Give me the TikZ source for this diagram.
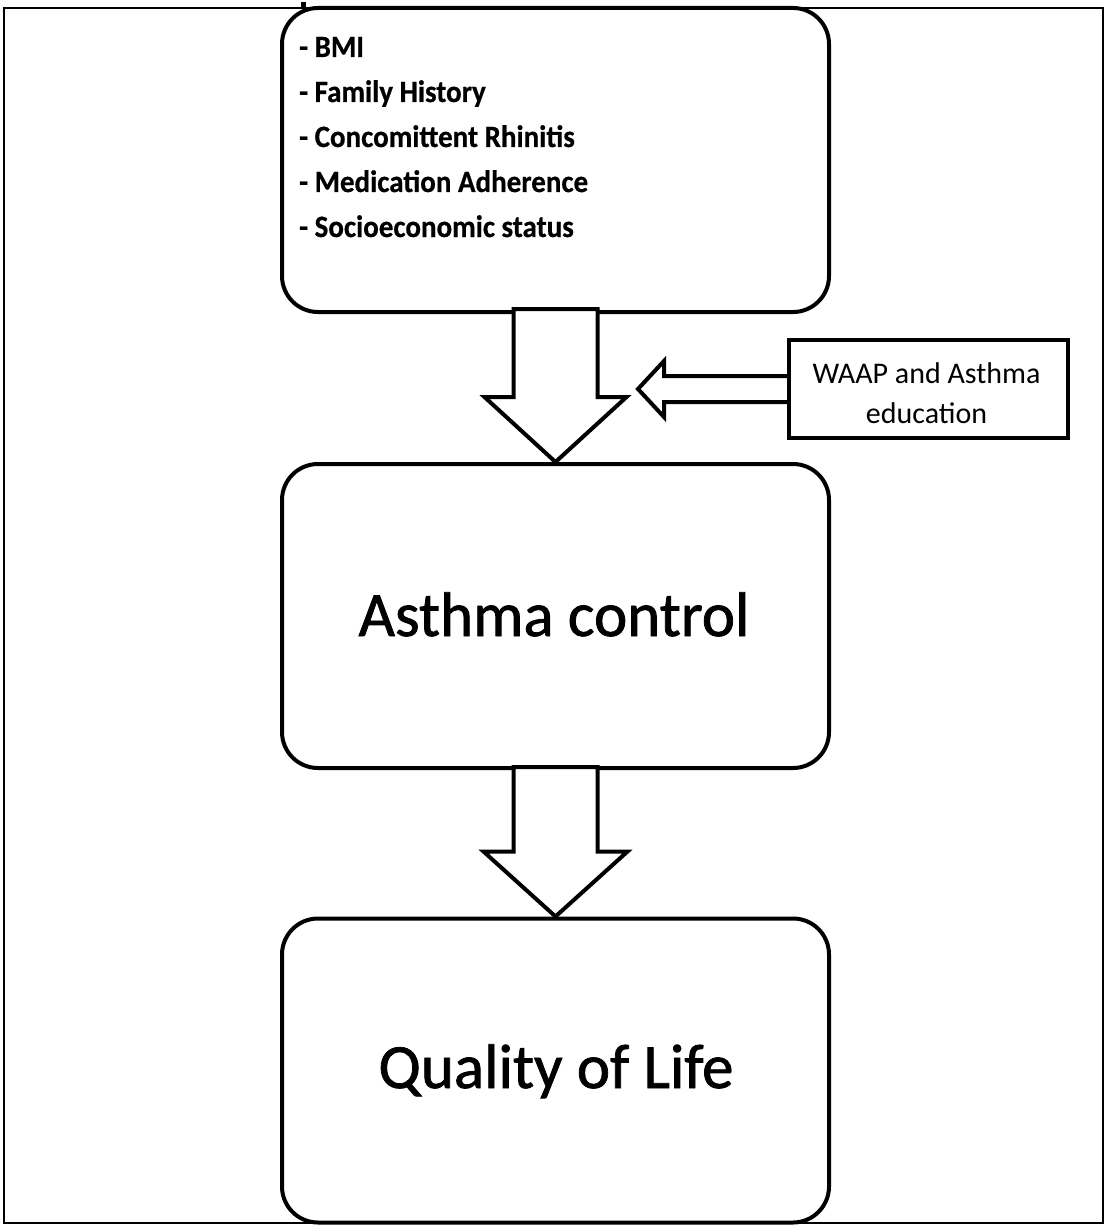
\documentclass[tikz,border=0pt]{standalone}
\usepackage{fontspec}
\setmainfont{Carlito}
\newfontfamily\bigfont[FakeBold=1.2]{Carlito}
\newfontfamily\listfont[FakeBold=0.6]{Carlito Bold}
\newcommand{\vstretch}[1]{\scalebox{1}[1.07]{#1}}
\usetikzlibrary{calc}
\begin{document}
\begin{tikzpicture}[x=1pt,y=-1pt,
  bigbox/.style={draw,line width=4pt,rounded corners=36pt,minimum width=547pt,minimum height=304pt,inner sep=0pt},
  sidebox/.style={draw,line width=4pt,minimum width=279pt,minimum height=98pt,inner sep=0pt},
  sidetext/.style={inner sep=0pt,align=center,font=\fontsize{30}{39}\selectfont},
  fatarrow/.style={draw,fill=white,line width=4pt,line join=miter},
  factor/.style={anchor=base west,inner sep=0pt,font=\listfont\fontsize{29}{30}\selectfont},
  bigtext/.style={anchor=base,inner sep=0pt,font=\bigfont\fontsize{63}{70}\selectfont}]
\useasboundingbox (0,0) rectangle (1105,1225);
\draw[line width=1.5pt] (4,8) rectangle (1103,1223);
% boxes
\node[bigbox] (f) at (555.5,160) {};
\node[bigbox] (ac) at (555.5,616) {};
\node[bigbox] (ql) at (555.5,1070.5) {};
\fill (301,2) rectangle (306,8);
% factor list
\node[factor] (f1) at (299,57) {\vstretch{- BMI}};
\node[factor] (f2) at (299,102) {\vstretch{- Family History}};
\node[factor] (f3) at (299,147) {\vstretch{- Concomittent Rhinitis}};
\node[factor] (f4) at (299,192) {\vstretch{- Medication Adherence}};
\node[factor] (f5) at (299,237) {\vstretch{- Socioeconomic status}};
% main labels
\node[bigtext] (act) at (554,636) {Asthma control};
\node[bigtext] (qlt) at (556,1088) {Quality of Life};
% fat arrows
\draw[fatarrow] ($(f.south)+(-42,-5)$) -- ($(f.south)+(42,-5)$) -- ($(ac.north)+(42,-65)$) -- ($(ac.north)+(71,-65)$) -- (ac.north) -- ($(ac.north)+(-71,-65)$) -- ($(ac.north)+(-42,-65)$) -- cycle;
\draw[fatarrow] ($(ac.south)+(-42,-3)$) -- ($(ac.south)+(42,-3)$) -- ($(ql.north)+(42,-65)$) -- ($(ql.north)+(72,-65)$) -- (ql.north) -- ($(ql.north)+(-72,-65)$) -- ($(ql.north)+(-42,-65)$) -- cycle;
% side input
\coordinate (wt) at (638,389);
\node[sidebox,draw=none] (w) at (928.5,389) {};
\draw[fatarrow] ($(w.west)+(0,-13)$) -- ($(wt)+(26,-13)$) -- ($(wt)+(26,-28)$) -- (wt) -- ($(wt)+(26,28)$) -- ($(wt)+(26,13)$) -- ($(w.west)+(0,13)$);
\node[sidebox] at (w) {};
\node[sidetext] (wl) at ($(w)+(-2,4)$) {WAAP and Asthma\\[1pt]education};
\end{tikzpicture}
\end{document}
